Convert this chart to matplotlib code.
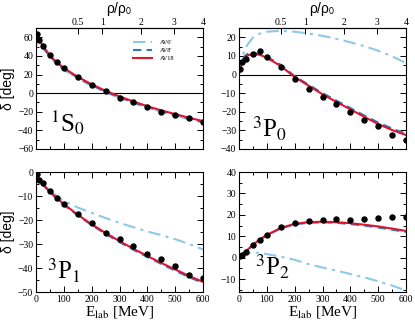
import numpy as np
import matplotlib
matplotlib.use('Agg')
import matplotlib.pyplot as plt
from matplotlib.ticker import MultipleLocator, NullLocator

plt.rcParams['font.family'] = ['Liberation Serif', 'DejaVu Serif']
plt.rcParams['mathtext.fontset'] = 'stix'

# energies of the data points and of the model curves [MeV]
e_pts = [5, 10, 25, 50, 75, 100, 150, 200, 250, 300, 350, 400, 450, 500, 550, 600]
e_cur = [1, 2, 5, 10, 20, 30, 50, 75, 100, 150, 200, 250, 300, 350, 400, 450, 500, 550, 600]

# 1S0
s0_pts = [63.6, 57.5, 51, 41.5, 34, 27.5, 17, 8.6, 2, -5, -10, -15, -20.5, -23.5, -27, -31.3]
s0_av18 = [62, 63, 63, 59, 53, 48.5, 40.5, 33, 27, 17.5, 9.5, 2.5, -3.5, -9, -14, -18.5, -22.5, -26.5, -30]
s0_av8 = [61, 62, 62, 58, 52, 47.5, 39.5, 32, 26, 16.5, 8.5, 1.5, -4.5, -10, -15, -19.5, -23.5, -27.5, -31]
s0_av6 = [47, 58, 61, 57, 51, 46.5, 38.5, 31, 25, 15.8, 8, 1, -5, -10.5, -15.5, -20, -24, -28, -31.5]

# 3P0
p0_pts = [3, 6.5, 8.5, 10.8, 12.4, 9.4, 3.8, -2.2, -7.6, -12, -16, -20, -24.2, -27.8, -32.3, -35]
p0_av18 = [1, 2, 4.5, 6.5, 9, 10.2, 11, 10.6, 9, 4.6, -1.4, -6, -10.6, -14.7, -18.7, -22.7, -26.6, -29.8, -32.5]
p0_av8 = [1.2, 2.5, 5, 7.2, 9.8, 11, 11.6, 11.2, 9.6, 5.2, -0.9, -5.5, -10, -14, -18, -22, -25.8, -29, -31.8]
p0_av6 = [1.5, 3, 6, 8.5, 13, 16, 19.8, 22, 23, 23.5, 23, 22, 20.8, 19.2, 17.3, 15.3, 12.8, 9.8, 6.2]

# 3P1
p1_pts = [-1.0, -3.3, -4.6, -8.1, -10.8, -13.5, -17.3, -21.4, -25.5, -28, -30.7, -34.3, -36.4, -39, -42.9, -44.3]
p1_av18 = [-0.3, -0.6, -1.5, -2.8, -4.5, -5.8, -8.2, -10.9, -13.4, -17.8, -21.8, -25.4, -28.8, -32, -35, -37.9, -40.6, -43.3, -45.8]
p1_av8 = [-0.3, -0.6, -1.5, -2.8, -4.6, -5.9, -8.4, -11.1, -13.7, -18.1, -22.1, -25.8, -29.2, -32.4, -35.4, -38.3, -41.1, -43.8, -46.3]
p1_av6 = [-0.3, -0.6, -1.5, -2.8, -4.4, -5.6, -7.8, -10, -12, -14.8, -17, -19.2, -21.2, -23, -24.8, -26.3, -28, -30, -32.3]

# 3P2
p2_pts = [0.7, 1.3, 2.8, 6, 8.3, 10.7, 14.2, 16.2, 17, 17.5, 17.9, 17.8, 18.2, 18.7, 19, 19]
p2_av18 = [0.1, 0.2, 0.6, 1.3, 2.4, 3.6, 6, 8.6, 10.6, 13.9, 15.8, 16.6, 16.8, 16.6, 16.1, 15.4, 14.6, 13.6, 12.5]
p2_av8 = [0.1, 0.2, 0.6, 1.3, 2.4, 3.6, 5.9, 8.5, 10.5, 13.7, 15.6, 16.3, 16.5, 16.3, 15.7, 15.0, 14.1, 13.1, 12.0]
p2_av6 = [0.1, 0.2, 0.6, 1.1, 1.7, 2.1, 2.4, 2.2, 1.7, 0.5, -1, -3, -4.6, -6, -7.6, -9.2, -11, -13, -15.3]

rho_ticks = [0.5, 1, 2, 3, 4]
E0 = 238.0  # E_lab at rho0

c_av6 = '#8ec9ea'
c_av8 = '#2b7bbb'
c_av18 = '#e0142f'

fig = plt.figure(figsize=(4.15, 3.23), dpi=100)


def e2rho(e):
    return (np.clip(e, 0, None) / E0) ** 1.5


def rho2e(r):
    return E0 * np.clip(r, 0, None) ** (2.0 / 3.0)


def panel(rect, pts, av18, av8, av6, ylim, ymaj, ymin, label, lpos, top):
    ax = fig.add_axes(rect)
    ax.plot(e_cur, av6, color=c_av6, lw=1.5, dashes=[6, 2.5, 1.5, 2.5], label="AV6'")
    ax.plot(e_cur, av8, color=c_av8, lw=1.5, dashes=[4, 2.5], label="AV8'")
    ax.plot(e_cur, av18, color=c_av18, lw=1.5, label='AV18')
    ax.plot(e_pts, pts, 'o', color='k', ms=3.6, zorder=5)
    ax.set_xlim(0, 600)
    ax.set_ylim(*ylim)
    ax.xaxis.set_major_locator(MultipleLocator(100))
    ax.xaxis.set_minor_locator(MultipleLocator(50))
    ax.yaxis.set_major_locator(MultipleLocator(ymaj))
    ax.yaxis.set_minor_locator(MultipleLocator(ymin))
    ax.tick_params(which='both', direction='in', right=True, top=not top,
                   labelsize=7, width=0.7, pad=2)
    ax.tick_params(which='major', length=4)
    ax.tick_params(which='minor', length=2)
    for s in ax.spines.values():
        s.set_linewidth(0.8)
    ax.text(lpos[0], lpos[1], r'$^{' + label[0] + r'}$' + label[1] + r'$_{' + label[2] + r'}$',
            transform=ax.transAxes, fontsize=18, ha='left', va='baseline')
    if top:
        ax.axhline(0, color='k', lw=0.8, zorder=1)
        ax.set_xticklabels([])
        sec = ax.secondary_xaxis('top', functions=(e2rho, rho2e))
        sec.set_xticks(rho_ticks)
        sec.set_xticklabels(['0.5', '1', '2', '3', '4'])
        sec.xaxis.set_minor_locator(NullLocator())
        sec.tick_params(direction='in', length=4, width=0.7, labelsize=7, pad=1)
        sec.set_xlabel(r'ρ/ρ$_\mathsf{0}$', family='Liberation Sans', fontsize=10, labelpad=3)
    else:
        ax.set_xlabel(r'E$_{\rm lab}$ [MeV]', fontsize=11, labelpad=0)
    return ax


W, H = 415.0, 323.0
ax1 = panel([36 / W, 1 - 149 / H, 167 / W, 121 / H], s0_pts, s0_av18, s0_av8, s0_av6,
            (-60, 70), 20, 10, '1S0', (0.085, 0.14), True)
ax2 = panel([239 / W, 1 - 149 / H, 167 / W, 121 / H], p0_pts, p0_av18, p0_av8, p0_av6,
            (-40, 25), 10, 5, '3P0', (0.076, 0.097), True)
ax3 = panel([36 / W, 1 - 292 / H, 167 / W, 120 / H], p1_pts, p1_av18, p1_av8, p1_av6,
            (-50, 0), 10, 5, '3P1', (0.064, 0.106), False)
ax4 = panel([239 / W, 1 - 292 / H, 167 / W, 120 / H], p2_pts, p2_av18, p2_av8, p2_av6,
            (-16, 40), 10, 5, '3P2', (0.096, 0.14), False)

ax1.set_ylabel('δ [deg]', family='Liberation Sans', fontsize=10, labelpad=2)
ax3.set_ylabel('δ [deg]', family='Liberation Sans', fontsize=10, labelpad=2)

ax1.legend(loc='upper left', bbox_to_anchor=(0.55, 0.95), frameon=False, fontsize=4.5,
           handlelength=3, labelspacing=0.4, handletextpad=1.2)

fig.savefig('out.png', dpi=100)
